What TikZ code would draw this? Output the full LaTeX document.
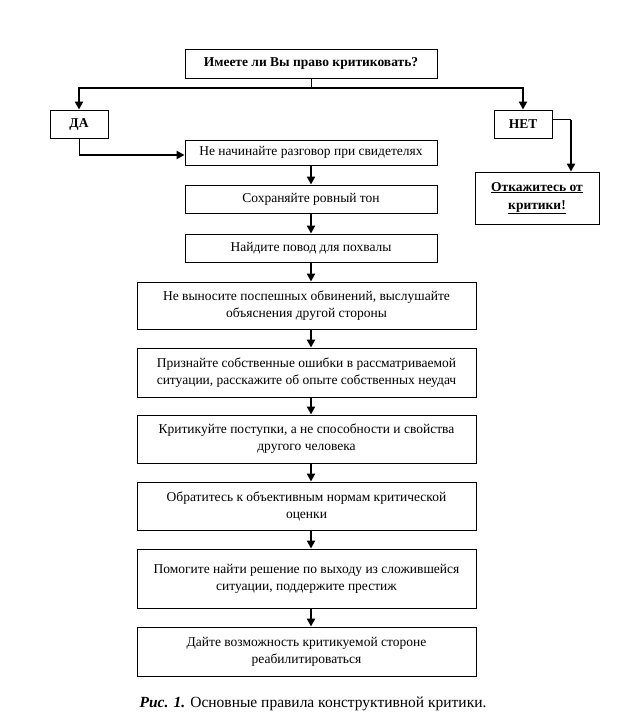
\documentclass[tikz,border=0pt]{standalone}
\usepackage{fontspec}
\setmainfont{Liberation Serif}
\usetikzlibrary{arrows.meta}
\begin{document}
\begin{tikzpicture}[x=1pt,y=-1pt,
  box/.style={draw,line width=0.9pt,rectangle,align=center,inner sep=0pt,font=\fontsize{13.5}{17}\selectfont},
  bbox/.style={box,font=\fontsize{13.5}{18}\selectfont\bfseries},
  wide/.style={box,minimum width=339pt},
  mid/.style={box,minimum width=252pt},
  conn/.style={line width=2.2pt},
  thinc/.style={line width=0.9pt},
  arr/.style={line width=2.2pt,-{Triangle[length=8pt,width=8pt]}}]
\useasboundingbox (0,0) rectangle (626,720);
\node[mid,bbox,minimum height=29pt] (q) at (311,63.5) {Имеете ли Вы право критиковать?};
\node[bbox,minimum width=58pt,minimum height=28pt] (da) at (79,124) {ДА};
\node[bbox,minimum width=58pt,minimum height=28pt] (net) at (523,124) {НЕТ};
\node[bbox,minimum width=124pt,minimum height=52pt] (no) at (537,198) {\underline{Откажитесь от}\\\underline{критики!}};
\node[mid,minimum height=25pt] (b1) at (311,152.5) {Не начинайте разговор при свидетелях};
\node[mid,minimum height=28pt] (b2) at (311,199) {Сохраняйте ровный тон};
\node[mid,minimum height=28pt] (b3) at (311,248) {Найдите повод для похвалы};
\node[wide,minimum height=47pt] (b4) at (306.5,305.5) {Не выносите поспешных обвинений, выслушайте\\объяснения другой стороны};
\node[wide,minimum height=49pt] (b5) at (306.5,372.5) {Признайте собственные ошибки в рассматриваемой\\ситуации, расскажите об опыте собственных неудач};
\node[wide,minimum height=48pt] (b6) at (306.5,439) {Критикуйте поступки, а не способности и свойства\\другого человека};
\node[wide,minimum height=48pt] (b7) at (306.5,506) {Обратитесь к объективным нормам критической\\оценки};
\node[wide,minimum height=59pt] (b8) at (306.5,578.5) {Помогите найти решение по выходу из сложившейся\\ситуации, поддержите престиж};
\node[wide,minimum height=49pt] (b9) at (306.5,651.5) {Дайте возможность критикуемой стороне\\реабилитироваться};
\node[font=\fontsize{15.5}{18}\selectfont] (cap) at (313,704) {\textbf{\textit{Рис. 1.}} Основные правила конструктивной критики.};
% top split
\coordinate (jl) at (79,88);
\coordinate (jr) at (523,88);
\draw[thinc] (q.south) -- (q.south |- jl);
\draw[conn] ([xshift=-1.1pt]jl) -- ([xshift=1.1pt]jr);
\draw[arr] (jl) -- (da.north);
\draw[arr] (jr) -- (net.north);
% DA to b1
\coordinate (dj) at (79,155);
\draw[thinc] (da.south) -- (dj);
\draw[arr] ([xshift=-0.5pt]dj) -- (b1.west |- dj);
% NET to no
\coordinate (nj) at (571,119);
\draw[thinc] (net.east |- nj) -- (nj);
\draw[arr] ([yshift=-0.5pt]nj) -- (nj |- no.north);
% chain
\foreach \a/\b in {b1/b2,b2/b3,b3/b4,b4/b5,b5/b6,b6/b7,b7/b8,b8/b9}{
  \draw[arr] (\a.south -| 311,0) -- (\b.north -| 311,0);
}
\end{tikzpicture}
\end{document}
